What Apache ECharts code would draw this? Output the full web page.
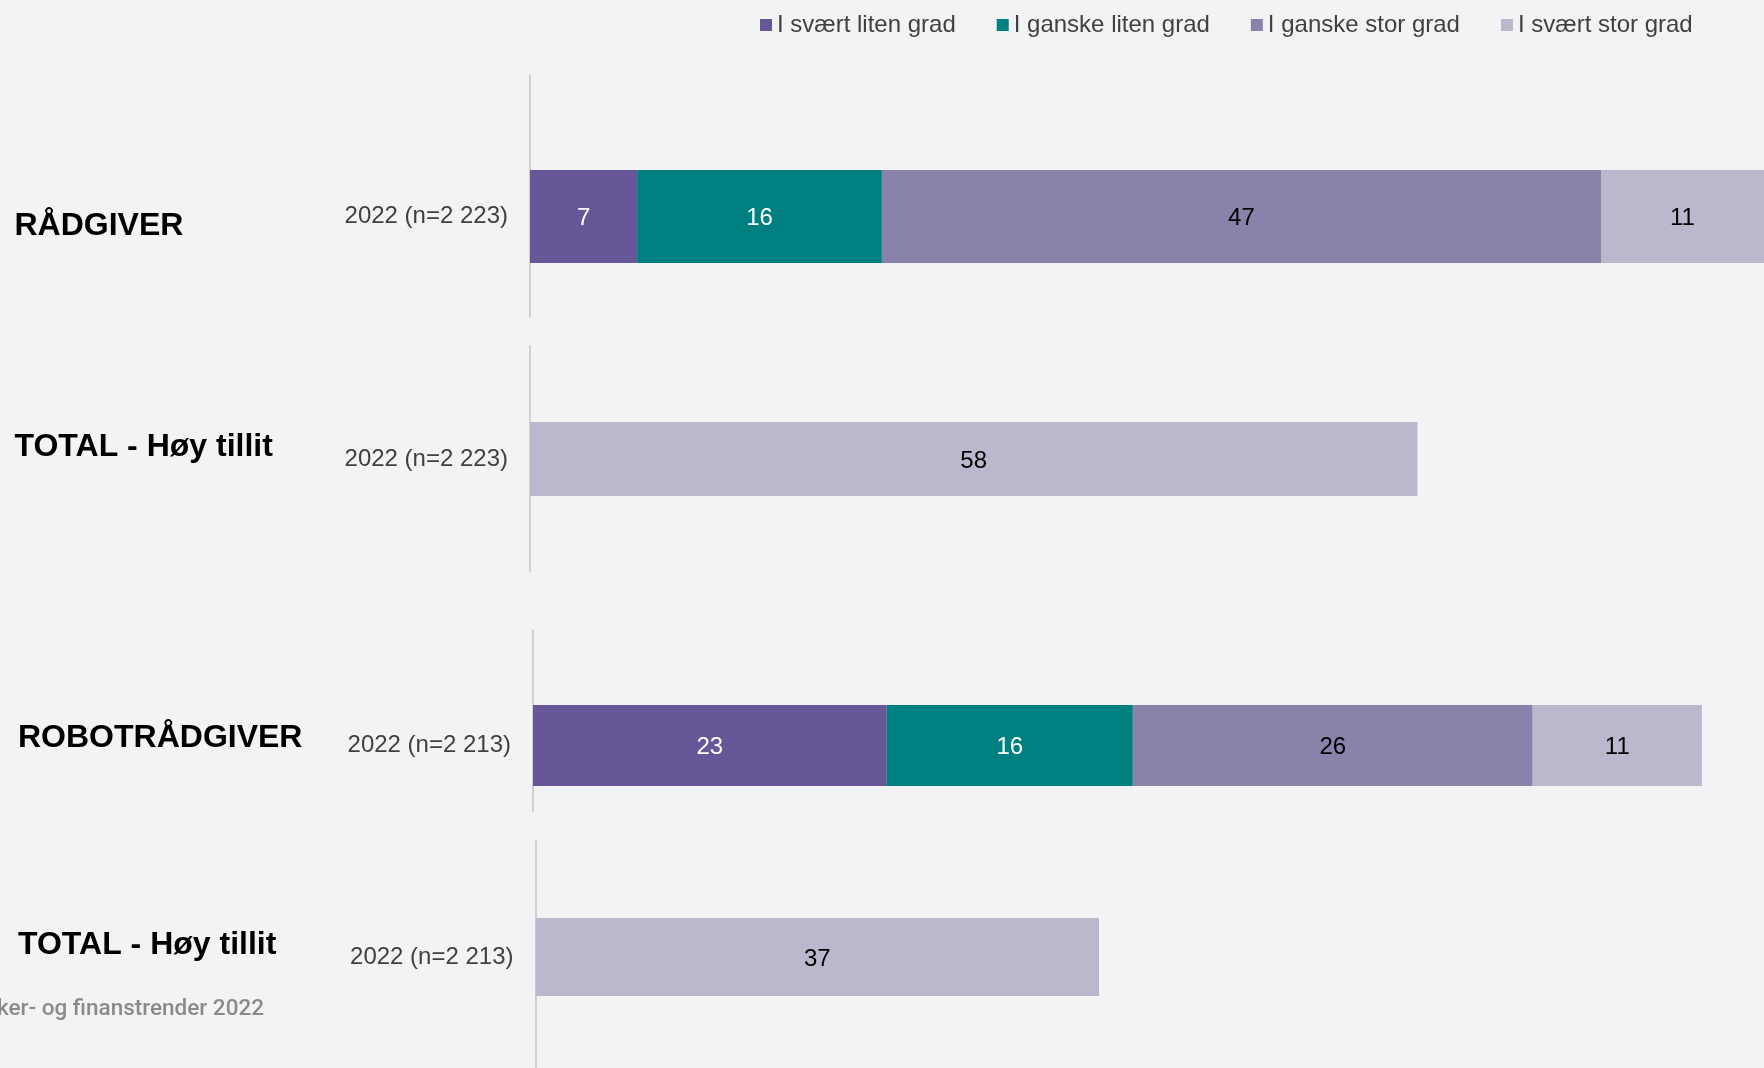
<!doctype html>
<html>
<head>
<meta charset="utf-8">
<title></title>
<script src="https://cdn.jsdelivr.net/npm/echarts@6/dist/echarts.min.js"></script>
<style type="text/css">
html, body { margin: 0; padding: 0; background: #F2F3F5; }
#chart { width: 1764px; height: 1068px; }
</style>
</head>
<body>
<div id="chart"></div>
<script type="text/javascript">
var legendNames = ['I svært liten grad', 'I ganske liten grad', 'I ganske stor grad', 'I svært stor grad'];
var groupNames = ['RÅDGIVER', 'TOTAL - Høy tillit', 'ROBOTRÅDGIVER', 'TOTAL - Høy tillit'];
var rowLabels = ['2022 (n=2 223)', '2022 (n=2 223)', '2022 (n=2 213)', '2022 (n=2 213)'];
var raadgiver = [7, 16, 47, 11];
var robot = [23, 16, 26, 11];
var totalHoy = [58, 37];
var footnote = 'ker- og finanstrender 2022';

var colors = ['#675799', '#007F80', '#8A82AB', '#BBB8CE'];
var labelColors = ['#ffffff', '#ffffff', '#000000', '#000000'];
var FONT = 'Liberation Sans, Arial, sans-serif';
var W = 1764;

// each panel: where the vertical axis line sits, where the bar sits, px per unit
var panels = [
    {x: 530,   lineTop: 75,  lineH: 242, barTop: 170, barH: 93, scale: 15.3,  textX: 14.5, textY: 226},
    {x: 530,   lineTop: 346, lineH: 225, barTop: 422, barH: 74, scale: 15.3,  textX: 14.5, textY: 447},
    {x: 533,   lineTop: 630, lineH: 181, barTop: 705, barH: 81, scale: 15.38, textX: 18,   textY: 738},
    {x: 535.5, lineTop: 840, lineH: 240, barTop: 918, barH: 78, scale: 15.23, textX: 18,   textY: 945.5}
];

// values per panel, one entry per legend item (null = no bar)
var panelValues = [
    raadgiver,
    [null, null, null, totalHoy[0]],
    robot,
    [null, null, null, totalHoy[1]]
];

var grid = [], xAxis = [], yAxis = [], series = [], graphic = [];

panels.forEach(function (p, i) {
    // bar grid runs to the right edge; axis max sets the px-per-unit
    grid.push({left: p.x, top: p.barTop, height: p.barH, right: 0});
    xAxis.push({type: 'value', gridIndex: 2 * i, min: 0, max: (W - p.x) / p.scale, show: false});
    yAxis.push({
        type: 'category', gridIndex: 2 * i, data: [rowLabels[i]],
        axisLine: {show: false}, axisTick: {show: false}, splitLine: {show: false},
        axisLabel: {color: '#404040', fontSize: 24, fontFamily: FONT, margin: 22, padding: [4, 0, 0, 0]}
    });
    // axis line grid
    grid.push({left: p.x, top: p.lineTop, height: p.lineH, width: 100});
    xAxis.push({type: 'value', gridIndex: 2 * i + 1, min: 0, max: 1, show: false});
    yAxis.push({
        type: 'category', gridIndex: 2 * i + 1, data: [''],
        axisLine: {show: true, onZero: false, lineStyle: {color: '#C4C4C4', width: 1.5}},
        axisTick: {show: false}, axisLabel: {show: false}, splitLine: {show: false}
    });

    panelValues[i].forEach(function (v, k) {
        if (v === null) return;
        series.push({
            type: 'bar',
            name: legendNames[k],
            stack: 'p' + i,
            xAxisIndex: 2 * i,
            yAxisIndex: 2 * i,
            barWidth: '100%',
            data: [v],
            itemStyle: {color: colors[k]},
            label: {show: true, position: 'inside', offset: [0, 2], color: labelColors[k], fontSize: 24, fontFamily: FONT},
            emphasis: {disabled: true}
        });
    });

    graphic.push({
        type: 'text', x: p.textX, y: p.textY,
        style: {text: groupNames[i], font: 'bold 32px ' + FONT, fill: '#000', verticalAlign: 'middle'}
    });
});

graphic.push({
    type: 'text', x: -3, y: 1009,
    style: {text: footnote, font: '500 22.5px Roboto', fill: '#8A8A8A', verticalAlign: 'middle'}
});

var chart = echarts.init(document.getElementById('chart'));
chart.setOption({
    backgroundColor: '#F2F3F5',
    animation: false,
    legend: {
        data: legendNames,
        icon: 'rect',
        itemWidth: 12,
        itemHeight: 12,
        itemGap: 41,
        left: 760,
        top: 13,
        padding: 0,
        textStyle: {color: '#404040', fontSize: 24, fontFamily: FONT}
    },
    grid: grid,
    xAxis: xAxis,
    yAxis: yAxis,
    series: series,
    graphic: graphic
});
</script>
</body>
</html>
